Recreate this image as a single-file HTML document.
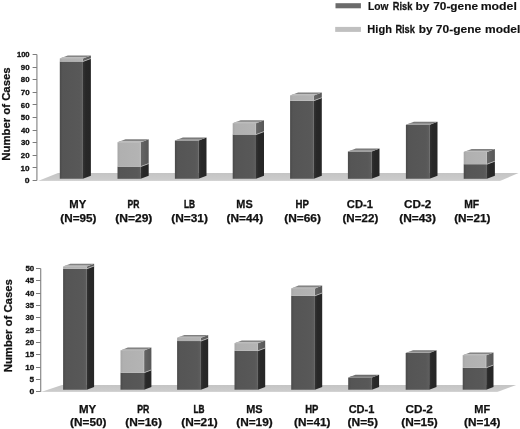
<!DOCTYPE html>
<html><head><meta charset="utf-8"><style>
html,body{margin:0;padding:0;background:#fff;}
svg{display:block;will-change:transform;}
text{font-family:"Liberation Sans", sans-serif;font-weight:bold;fill:#111;}
</style></head><body>
<svg width="520" height="429" viewBox="0 0 520 429">
<rect width="520" height="429" fill="#fff"/>
<defs>
<linearGradient id="lf" x1="0" x2="1" y1="0" y2="0"><stop offset="0" stop-color="#4a4a4a"/><stop offset="0.12" stop-color="#555"/><stop offset="0.85" stop-color="#585858"/><stop offset="1" stop-color="#5e5e5e"/></linearGradient>
<linearGradient id="ls" x1="0" x2="1" y1="0" y2="0"><stop offset="0" stop-color="#333"/><stop offset="0.35" stop-color="#282828"/><stop offset="1" stop-color="#262626"/></linearGradient>
<linearGradient id="hf" x1="0" x2="1" y1="0" y2="0"><stop offset="0" stop-color="#a6a6a6"/><stop offset="0.12" stop-color="#b0b0b0"/><stop offset="1" stop-color="#b4b4b4"/></linearGradient>
<linearGradient id="hs" x1="0" x2="1" y1="0" y2="0"><stop offset="0" stop-color="#666"/><stop offset="1" stop-color="#575757"/></linearGradient>
<linearGradient id="lt" x1="0" x2="0" y1="0" y2="1"><stop offset="0" stop-color="#747474"/><stop offset="1" stop-color="#8a8a8a"/></linearGradient>
<linearGradient id="ht" x1="0" x2="0" y1="0" y2="1"><stop offset="0" stop-color="#7c7c7c"/><stop offset="1" stop-color="#929292"/></linearGradient>
<linearGradient id="fl" x1="0" x2="0" y1="0" y2="1"><stop offset="0" stop-color="#c4c4c4"/><stop offset="0.8" stop-color="#cbcbcb"/><stop offset="1" stop-color="#d6d6d6"/></linearGradient>
</defs>
<polygon points="38.00,181.00 58.00,173.00 518.50,173.00 500.00,181.00" fill="url(#fl)"/>
<line x1="36.9" y1="54.5" x2="36.9" y2="180.5" stroke="#8a8a8a" stroke-width="1.2"/>
<line x1="32.6" y1="54.50" x2="36.9" y2="54.50" stroke="#7c7c7c" stroke-width="1"/>
<text x="16.92" y="57.20" font-size="8.00" textLength="12.69" lengthAdjust="spacingAndGlyphs" stroke="#111" stroke-width="0.34">100</text>
<line x1="32.6" y1="67.50" x2="36.9" y2="67.50" stroke="#7c7c7c" stroke-width="1"/>
<text x="20.83" y="69.80" font-size="8.00" textLength="8.80" lengthAdjust="spacingAndGlyphs" stroke="#111" stroke-width="0.31">90</text>
<line x1="32.6" y1="79.50" x2="36.9" y2="79.50" stroke="#7c7c7c" stroke-width="1"/>
<text x="20.85" y="82.40" font-size="8.00" textLength="8.77" lengthAdjust="spacingAndGlyphs" stroke="#111" stroke-width="0.31">80</text>
<line x1="32.6" y1="92.50" x2="36.9" y2="92.50" stroke="#7c7c7c" stroke-width="1"/>
<text x="20.76" y="95.00" font-size="8.00" textLength="8.87" lengthAdjust="spacingAndGlyphs" stroke="#111" stroke-width="0.30">70</text>
<line x1="32.6" y1="104.50" x2="36.9" y2="104.50" stroke="#7c7c7c" stroke-width="1"/>
<text x="20.81" y="107.60" font-size="8.00" textLength="8.82" lengthAdjust="spacingAndGlyphs" stroke="#111" stroke-width="0.31">60</text>
<line x1="32.6" y1="117.50" x2="36.9" y2="117.50" stroke="#7c7c7c" stroke-width="1"/>
<text x="20.86" y="120.20" font-size="8.00" textLength="8.77" lengthAdjust="spacingAndGlyphs" stroke="#111" stroke-width="0.31">50</text>
<line x1="32.6" y1="130.50" x2="36.9" y2="130.50" stroke="#7c7c7c" stroke-width="1"/>
<text x="20.98" y="132.80" font-size="8.00" textLength="8.64" lengthAdjust="spacingAndGlyphs" stroke="#111" stroke-width="0.32">40</text>
<line x1="32.6" y1="142.50" x2="36.9" y2="142.50" stroke="#7c7c7c" stroke-width="1"/>
<text x="20.92" y="145.40" font-size="8.00" textLength="8.70" lengthAdjust="spacingAndGlyphs" stroke="#111" stroke-width="0.32">30</text>
<line x1="32.6" y1="155.50" x2="36.9" y2="155.50" stroke="#7c7c7c" stroke-width="1"/>
<text x="20.83" y="158.00" font-size="8.00" textLength="8.80" lengthAdjust="spacingAndGlyphs" stroke="#111" stroke-width="0.31">20</text>
<line x1="32.6" y1="167.50" x2="36.9" y2="167.50" stroke="#7c7c7c" stroke-width="1"/>
<text x="20.59" y="170.60" font-size="8.00" textLength="9.05" lengthAdjust="spacingAndGlyphs" stroke="#111" stroke-width="0.30">10</text>
<line x1="32.6" y1="180.50" x2="36.9" y2="180.50" stroke="#7c7c7c" stroke-width="1"/>
<text x="24.86" y="183.20" font-size="8.00" textLength="4.79" lengthAdjust="spacingAndGlyphs" stroke="#111" stroke-width="0.30">0</text>
<polygon points="59.80,61.50 82.90,61.50 82.90,178.80 59.80,178.80" fill="url(#lf)"/>
<polygon points="82.90,61.50 90.90,58.50 90.90,175.80 82.90,178.80" fill="url(#ls)"/>
<polygon points="59.80,58.40 82.90,58.40 82.90,61.50 59.80,61.50" fill="url(#hf)"/>
<polygon points="82.90,58.40 90.90,55.40 90.90,58.50 82.90,61.50" fill="url(#hs)"/>
<line x1="82.90" y1="61.50" x2="90.90" y2="58.50" stroke="#bdbdbd" stroke-width="0.8"/>
<line x1="82.50" y1="58.40" x2="82.50" y2="61.50" stroke="#c2c2c2" stroke-width="0.8"/>
<polygon points="59.80,58.40 67.80,55.40 90.90,55.40 82.90,58.40" fill="url(#ht)"/>
<polygon points="59.80,58.40 63.40,57.05 86.50,57.05 82.90,58.40" fill="#bdbdbd"/>
<polygon points="117.50,166.60 140.70,166.60 140.70,178.80 117.50,178.80" fill="url(#lf)"/>
<polygon points="140.70,166.60 148.70,163.60 148.70,175.80 140.70,178.80" fill="url(#ls)"/>
<polygon points="117.50,142.30 140.70,142.30 140.70,166.60 117.50,166.60" fill="url(#hf)"/>
<polygon points="140.70,142.30 148.70,139.30 148.70,163.60 140.70,166.60" fill="url(#hs)"/>
<line x1="140.70" y1="166.60" x2="148.70" y2="163.60" stroke="#bdbdbd" stroke-width="0.8"/>
<line x1="140.30" y1="142.30" x2="140.30" y2="166.60" stroke="#c2c2c2" stroke-width="0.8"/>
<polygon points="117.50,142.30 125.50,139.30 148.70,139.30 140.70,142.30" fill="url(#ht)"/>
<polygon points="117.50,142.30 121.10,140.95 144.30,140.95 140.70,142.30" fill="#bdbdbd"/>
<polygon points="174.90,140.60 198.50,140.60 198.50,178.80 174.90,178.80" fill="url(#lf)"/>
<polygon points="198.50,140.60 206.50,137.60 206.50,175.80 198.50,178.80" fill="url(#ls)"/>
<polygon points="174.90,140.60 182.90,137.60 206.50,137.60 198.50,140.60" fill="url(#lt)"/>
<polygon points="174.90,140.60 178.50,139.25 202.10,139.25 198.50,140.60" fill="#a6a6a6"/>
<polygon points="232.70,134.60 256.00,134.60 256.00,178.80 232.70,178.80" fill="url(#lf)"/>
<polygon points="256.00,134.60 264.00,131.60 264.00,175.80 256.00,178.80" fill="url(#ls)"/>
<polygon points="232.70,123.20 256.00,123.20 256.00,134.60 232.70,134.60" fill="url(#hf)"/>
<polygon points="256.00,123.20 264.00,120.20 264.00,131.60 256.00,134.60" fill="url(#hs)"/>
<line x1="256.00" y1="134.60" x2="264.00" y2="131.60" stroke="#bdbdbd" stroke-width="0.8"/>
<line x1="255.60" y1="123.20" x2="255.60" y2="134.60" stroke="#c2c2c2" stroke-width="0.8"/>
<polygon points="232.70,123.20 240.70,120.20 264.00,120.20 256.00,123.20" fill="url(#ht)"/>
<polygon points="232.70,123.20 236.30,121.85 259.60,121.85 256.00,123.20" fill="#bdbdbd"/>
<polygon points="290.10,100.70 313.80,100.70 313.80,178.80 290.10,178.80" fill="url(#lf)"/>
<polygon points="313.80,100.70 321.80,97.70 321.80,175.80 313.80,178.80" fill="url(#ls)"/>
<polygon points="290.10,95.40 313.80,95.40 313.80,100.70 290.10,100.70" fill="url(#hf)"/>
<polygon points="313.80,95.40 321.80,92.40 321.80,97.70 313.80,100.70" fill="url(#hs)"/>
<line x1="313.80" y1="100.70" x2="321.80" y2="97.70" stroke="#bdbdbd" stroke-width="0.8"/>
<line x1="313.40" y1="95.40" x2="313.40" y2="100.70" stroke="#c2c2c2" stroke-width="0.8"/>
<polygon points="290.10,95.40 298.10,92.40 321.80,92.40 313.80,95.40" fill="url(#ht)"/>
<polygon points="290.10,95.40 293.70,94.05 317.40,94.05 313.80,95.40" fill="#bdbdbd"/>
<polygon points="347.90,151.50 371.50,151.50 371.50,178.80 347.90,178.80" fill="url(#lf)"/>
<polygon points="371.50,151.50 379.50,148.50 379.50,175.80 371.50,178.80" fill="url(#ls)"/>
<polygon points="347.90,151.50 355.90,148.50 379.50,148.50 371.50,151.50" fill="url(#lt)"/>
<polygon points="347.90,151.50 351.50,150.15 375.10,150.15 371.50,151.50" fill="#a6a6a6"/>
<polygon points="405.90,124.80 429.50,124.80 429.50,178.80 405.90,178.80" fill="url(#lf)"/>
<polygon points="429.50,124.80 437.50,121.80 437.50,175.80 429.50,178.80" fill="url(#ls)"/>
<polygon points="405.90,124.80 413.90,121.80 437.50,121.80 429.50,124.80" fill="url(#lt)"/>
<polygon points="405.90,124.80 409.50,123.45 433.10,123.45 429.50,124.80" fill="#a6a6a6"/>
<polygon points="463.70,164.20 486.90,164.20 486.90,178.80 463.70,178.80" fill="url(#lf)"/>
<polygon points="486.90,164.20 494.90,161.20 494.90,175.80 486.90,178.80" fill="url(#ls)"/>
<polygon points="463.70,152.00 486.90,152.00 486.90,164.20 463.70,164.20" fill="url(#hf)"/>
<polygon points="486.90,152.00 494.90,149.00 494.90,161.20 486.90,164.20" fill="url(#hs)"/>
<line x1="486.90" y1="164.20" x2="494.90" y2="161.20" stroke="#bdbdbd" stroke-width="0.8"/>
<line x1="486.50" y1="152.00" x2="486.50" y2="164.20" stroke="#c2c2c2" stroke-width="0.8"/>
<polygon points="463.70,152.00 471.70,149.00 494.90,149.00 486.90,152.00" fill="url(#ht)"/>
<polygon points="463.70,152.00 467.30,150.65 490.50,150.65 486.90,152.00" fill="#bdbdbd"/>
<polygon points="41.00,392.00 62.00,385.00 516.20,385.00 497.30,392.00" fill="url(#fl)"/>
<line x1="40.7" y1="268.4" x2="40.7" y2="391.7" stroke="#8a8a8a" stroke-width="1.2"/>
<line x1="36.0" y1="268.50" x2="40.7" y2="268.50" stroke="#7c7c7c" stroke-width="1"/>
<text x="25.46" y="271.10" font-size="8.00" textLength="8.77" lengthAdjust="spacingAndGlyphs" stroke="#111" stroke-width="0.31">50</text>
<line x1="36.0" y1="280.50" x2="40.7" y2="280.50" stroke="#7c7c7c" stroke-width="1"/>
<text x="25.58" y="283.43" font-size="8.00" textLength="8.53" lengthAdjust="spacingAndGlyphs" stroke="#111" stroke-width="0.33">45</text>
<line x1="36.0" y1="293.50" x2="40.7" y2="293.50" stroke="#7c7c7c" stroke-width="1"/>
<text x="25.58" y="295.76" font-size="8.00" textLength="8.64" lengthAdjust="spacingAndGlyphs" stroke="#111" stroke-width="0.32">40</text>
<line x1="36.0" y1="305.50" x2="40.7" y2="305.50" stroke="#7c7c7c" stroke-width="1"/>
<text x="25.52" y="308.09" font-size="8.00" textLength="8.59" lengthAdjust="spacingAndGlyphs" stroke="#111" stroke-width="0.33">35</text>
<line x1="36.0" y1="317.50" x2="40.7" y2="317.50" stroke="#7c7c7c" stroke-width="1"/>
<text x="25.52" y="320.42" font-size="8.00" textLength="8.70" lengthAdjust="spacingAndGlyphs" stroke="#111" stroke-width="0.32">30</text>
<line x1="36.0" y1="330.50" x2="40.7" y2="330.50" stroke="#7c7c7c" stroke-width="1"/>
<text x="25.43" y="332.75" font-size="8.00" textLength="8.69" lengthAdjust="spacingAndGlyphs" stroke="#111" stroke-width="0.32">25</text>
<line x1="36.0" y1="342.50" x2="40.7" y2="342.50" stroke="#7c7c7c" stroke-width="1"/>
<text x="25.43" y="345.08" font-size="8.00" textLength="8.80" lengthAdjust="spacingAndGlyphs" stroke="#111" stroke-width="0.31">20</text>
<line x1="36.0" y1="354.50" x2="40.7" y2="354.50" stroke="#7c7c7c" stroke-width="1"/>
<text x="25.19" y="357.41" font-size="8.00" textLength="8.93" lengthAdjust="spacingAndGlyphs" stroke="#111" stroke-width="0.30">15</text>
<line x1="36.0" y1="367.50" x2="40.7" y2="367.50" stroke="#7c7c7c" stroke-width="1"/>
<text x="25.19" y="369.74" font-size="8.00" textLength="9.05" lengthAdjust="spacingAndGlyphs" stroke="#111" stroke-width="0.30">10</text>
<line x1="36.0" y1="379.50" x2="40.7" y2="379.50" stroke="#7c7c7c" stroke-width="1"/>
<text x="29.55" y="382.07" font-size="8.00" textLength="4.58" lengthAdjust="spacingAndGlyphs" stroke="#111" stroke-width="0.30">5</text>
<line x1="36.0" y1="391.50" x2="40.7" y2="391.50" stroke="#7c7c7c" stroke-width="1"/>
<text x="29.46" y="394.40" font-size="8.00" textLength="4.79" lengthAdjust="spacingAndGlyphs" stroke="#111" stroke-width="0.30">0</text>
<polygon points="63.10,268.80 86.80,268.80 86.80,389.70 63.10,389.70" fill="url(#lf)"/>
<polygon points="86.80,268.80 94.10,266.00 94.10,386.90 86.80,389.70" fill="url(#ls)"/>
<polygon points="63.10,266.60 86.80,266.60 86.80,268.80 63.10,268.80" fill="url(#hf)"/>
<polygon points="86.80,266.60 94.10,263.80 94.10,266.00 86.80,268.80" fill="url(#hs)"/>
<line x1="86.80" y1="268.80" x2="94.10" y2="266.00" stroke="#bdbdbd" stroke-width="0.8"/>
<line x1="86.40" y1="266.60" x2="86.40" y2="268.80" stroke="#c2c2c2" stroke-width="0.8"/>
<polygon points="63.10,266.60 70.40,263.80 94.10,263.80 86.80,266.60" fill="url(#ht)"/>
<polygon points="63.10,266.60 66.39,265.34 90.08,265.34 86.80,266.60" fill="#bdbdbd"/>
<polygon points="120.50,372.70 144.10,372.70 144.10,389.70 120.50,389.70" fill="url(#lf)"/>
<polygon points="144.10,372.70 151.40,369.90 151.40,386.90 144.10,389.70" fill="url(#ls)"/>
<polygon points="120.50,350.40 144.10,350.40 144.10,372.70 120.50,372.70" fill="url(#hf)"/>
<polygon points="144.10,350.40 151.40,347.60 151.40,369.90 144.10,372.70" fill="url(#hs)"/>
<line x1="144.10" y1="372.70" x2="151.40" y2="369.90" stroke="#bdbdbd" stroke-width="0.8"/>
<line x1="143.70" y1="350.40" x2="143.70" y2="372.70" stroke="#c2c2c2" stroke-width="0.8"/>
<polygon points="120.50,350.40 127.80,347.60 151.40,347.60 144.10,350.40" fill="url(#ht)"/>
<polygon points="120.50,350.40 123.78,349.14 147.38,349.14 144.10,350.40" fill="#bdbdbd"/>
<polygon points="177.10,341.10 200.90,341.10 200.90,389.70 177.10,389.70" fill="url(#lf)"/>
<polygon points="200.90,341.10 208.20,338.30 208.20,386.90 200.90,389.70" fill="url(#ls)"/>
<polygon points="177.10,337.80 200.90,337.80 200.90,341.10 177.10,341.10" fill="url(#hf)"/>
<polygon points="200.90,337.80 208.20,335.00 208.20,338.30 200.90,341.10" fill="url(#hs)"/>
<line x1="200.90" y1="341.10" x2="208.20" y2="338.30" stroke="#bdbdbd" stroke-width="0.8"/>
<line x1="200.50" y1="337.80" x2="200.50" y2="341.10" stroke="#c2c2c2" stroke-width="0.8"/>
<polygon points="177.10,337.80 184.40,335.00 208.20,335.00 200.90,337.80" fill="url(#ht)"/>
<polygon points="177.10,337.80 180.38,336.54 204.19,336.54 200.90,337.80" fill="#bdbdbd"/>
<polygon points="234.50,350.80 257.90,350.80 257.90,389.70 234.50,389.70" fill="url(#lf)"/>
<polygon points="257.90,350.80 265.20,348.00 265.20,386.90 257.90,389.70" fill="url(#ls)"/>
<polygon points="234.50,343.20 257.90,343.20 257.90,350.80 234.50,350.80" fill="url(#hf)"/>
<polygon points="257.90,343.20 265.20,340.40 265.20,348.00 257.90,350.80" fill="url(#hs)"/>
<line x1="257.90" y1="350.80" x2="265.20" y2="348.00" stroke="#bdbdbd" stroke-width="0.8"/>
<line x1="257.50" y1="343.20" x2="257.50" y2="350.80" stroke="#c2c2c2" stroke-width="0.8"/>
<polygon points="234.50,343.20 241.80,340.40 265.20,340.40 257.90,343.20" fill="url(#ht)"/>
<polygon points="234.50,343.20 237.78,341.94 261.19,341.94 257.90,343.20" fill="#bdbdbd"/>
<polygon points="291.20,295.80 314.90,295.80 314.90,389.70 291.20,389.70" fill="url(#lf)"/>
<polygon points="314.90,295.80 322.20,293.00 322.20,386.90 314.90,389.70" fill="url(#ls)"/>
<polygon points="291.20,288.40 314.90,288.40 314.90,295.80 291.20,295.80" fill="url(#hf)"/>
<polygon points="314.90,288.40 322.20,285.60 322.20,293.00 314.90,295.80" fill="url(#hs)"/>
<line x1="314.90" y1="295.80" x2="322.20" y2="293.00" stroke="#bdbdbd" stroke-width="0.8"/>
<line x1="314.50" y1="288.40" x2="314.50" y2="295.80" stroke="#c2c2c2" stroke-width="0.8"/>
<polygon points="291.20,288.40 298.50,285.60 322.20,285.60 314.90,288.40" fill="url(#ht)"/>
<polygon points="291.20,288.40 294.49,287.14 318.19,287.14 314.90,288.40" fill="#bdbdbd"/>
<polygon points="348.20,377.60 371.80,377.60 371.80,389.70 348.20,389.70" fill="url(#lf)"/>
<polygon points="371.80,377.60 379.10,374.80 379.10,386.90 371.80,389.70" fill="url(#ls)"/>
<polygon points="348.20,377.60 355.50,374.80 379.10,374.80 371.80,377.60" fill="#6c6c6c"/>
<polygon points="348.20,377.60 351.49,376.34 375.09,376.34 371.80,377.60" fill="#858585"/>
<polygon points="405.70,353.00 429.20,353.00 429.20,389.70 405.70,389.70" fill="url(#lf)"/>
<polygon points="429.20,353.00 436.50,350.20 436.50,386.90 429.20,389.70" fill="url(#ls)"/>
<polygon points="405.70,353.00 413.00,350.20 436.50,350.20 429.20,353.00" fill="url(#lt)"/>
<polygon points="405.70,353.00 408.99,351.74 432.49,351.74 429.20,353.00" fill="#a6a6a6"/>
<polygon points="462.70,367.80 486.20,367.80 486.20,389.70 462.70,389.70" fill="url(#lf)"/>
<polygon points="486.20,367.80 493.50,365.00 493.50,386.90 486.20,389.70" fill="url(#ls)"/>
<polygon points="462.70,355.20 486.20,355.20 486.20,367.80 462.70,367.80" fill="url(#hf)"/>
<polygon points="486.20,355.20 493.50,352.40 493.50,365.00 486.20,367.80" fill="url(#hs)"/>
<line x1="486.20" y1="367.80" x2="493.50" y2="365.00" stroke="#bdbdbd" stroke-width="0.8"/>
<line x1="485.80" y1="355.20" x2="485.80" y2="367.80" stroke="#c2c2c2" stroke-width="0.8"/>
<polygon points="462.70,355.20 470.00,352.40 493.50,352.40 486.20,355.20" fill="url(#ht)"/>
<polygon points="462.70,355.20 465.99,353.94 489.49,353.94 486.20,355.20" fill="#bdbdbd"/>
<text x="69.24" y="208.10" font-size="11.21" textLength="16.94" lengthAdjust="spacingAndGlyphs" stroke="#111" stroke-width="0.25">MY</text>
<text x="60.32" y="221.50" font-size="10.30" textLength="36.06" lengthAdjust="spacingAndGlyphs" stroke="#111" stroke-width="0.25">(N=95)</text>
<text x="127.53" y="208.10" font-size="11.21" textLength="11.85" lengthAdjust="spacingAndGlyphs" stroke="#111" stroke-width="0.44">PR</text>
<text x="115.20" y="221.50" font-size="10.30" textLength="37.20" lengthAdjust="spacingAndGlyphs" stroke="#111" stroke-width="0.25">(N=29)</text>
<text x="183.95" y="208.10" font-size="11.21" textLength="11.03" lengthAdjust="spacingAndGlyphs" stroke="#111" stroke-width="0.46">LB</text>
<text x="171.21" y="221.50" font-size="10.30" textLength="36.68" lengthAdjust="spacingAndGlyphs" stroke="#111" stroke-width="0.25">(N=31)</text>
<text x="236.37" y="208.10" font-size="11.21" textLength="16.36" lengthAdjust="spacingAndGlyphs" stroke="#111" stroke-width="0.27">MS</text>
<text x="226.61" y="221.50" font-size="10.30" textLength="36.48" lengthAdjust="spacingAndGlyphs" stroke="#111" stroke-width="0.25">(N=44)</text>
<text x="295.46" y="208.10" font-size="11.21" textLength="13.37" lengthAdjust="spacingAndGlyphs" stroke="#111" stroke-width="0.36">HP</text>
<text x="284.21" y="221.50" font-size="10.30" textLength="36.68" lengthAdjust="spacingAndGlyphs" stroke="#111" stroke-width="0.25">(N=66)</text>
<text x="346.84" y="208.10" font-size="11.21" textLength="26.17" lengthAdjust="spacingAndGlyphs" stroke="#111" stroke-width="0.25">CD-1</text>
<text x="342.52" y="221.50" font-size="10.30" textLength="35.75" lengthAdjust="spacingAndGlyphs" stroke="#111" stroke-width="0.25">(N=22)</text>
<text x="404.02" y="208.10" font-size="11.21" textLength="27.35" lengthAdjust="spacingAndGlyphs" stroke="#111" stroke-width="0.25">CD-2</text>
<text x="399.21" y="221.50" font-size="10.30" textLength="36.68" lengthAdjust="spacingAndGlyphs" stroke="#111" stroke-width="0.25">(N=43)</text>
<text x="464.21" y="208.10" font-size="11.21" textLength="14.97" lengthAdjust="spacingAndGlyphs" stroke="#111" stroke-width="0.31">MF</text>
<text x="454.21" y="221.50" font-size="10.30" textLength="36.27" lengthAdjust="spacingAndGlyphs" stroke="#111" stroke-width="0.25">(N=21)</text>
<text x="78.93" y="412.80" font-size="10.91" textLength="17.25" lengthAdjust="spacingAndGlyphs" stroke="#111" stroke-width="0.25">MY</text>
<text x="70.11" y="425.80" font-size="10.30" textLength="36.27" lengthAdjust="spacingAndGlyphs" stroke="#111" stroke-width="0.25">(N=50)</text>
<text x="137.32" y="412.80" font-size="10.91" textLength="12.06" lengthAdjust="spacingAndGlyphs" stroke="#111" stroke-width="0.41">PR</text>
<text x="125.21" y="425.80" font-size="10.30" textLength="36.68" lengthAdjust="spacingAndGlyphs" stroke="#111" stroke-width="0.25">(N=16)</text>
<text x="193.55" y="412.80" font-size="10.91" textLength="11.03" lengthAdjust="spacingAndGlyphs" stroke="#111" stroke-width="0.44">LB</text>
<text x="181.21" y="425.80" font-size="10.30" textLength="36.48" lengthAdjust="spacingAndGlyphs" stroke="#111" stroke-width="0.25">(N=21)</text>
<text x="246.27" y="412.80" font-size="10.91" textLength="16.36" lengthAdjust="spacingAndGlyphs" stroke="#111" stroke-width="0.25">MS</text>
<text x="236.21" y="425.80" font-size="10.30" textLength="36.48" lengthAdjust="spacingAndGlyphs" stroke="#111" stroke-width="0.25">(N=19)</text>
<text x="305.27" y="412.80" font-size="10.91" textLength="13.16" lengthAdjust="spacingAndGlyphs" stroke="#111" stroke-width="0.36">HP</text>
<text x="294.11" y="425.80" font-size="10.30" textLength="36.27" lengthAdjust="spacingAndGlyphs" stroke="#111" stroke-width="0.25">(N=41)</text>
<text x="348.65" y="412.80" font-size="10.91" textLength="25.76" lengthAdjust="spacingAndGlyphs" stroke="#111" stroke-width="0.25">CD-1</text>
<text x="347.60" y="425.80" font-size="10.30" textLength="30.29" lengthAdjust="spacingAndGlyphs" stroke="#111" stroke-width="0.25">(N=5)</text>
<text x="405.52" y="412.80" font-size="10.91" textLength="27.25" lengthAdjust="spacingAndGlyphs" stroke="#111" stroke-width="0.25">CD-2</text>
<text x="401.21" y="425.80" font-size="10.30" textLength="36.48" lengthAdjust="spacingAndGlyphs" stroke="#111" stroke-width="0.25">(N=15)</text>
<text x="474.37" y="412.80" font-size="10.91" textLength="15.84" lengthAdjust="spacingAndGlyphs" stroke="#111" stroke-width="0.25">MF</text>
<text x="464.11" y="425.80" font-size="10.30" textLength="36.27" lengthAdjust="spacingAndGlyphs" stroke="#111" stroke-width="0.25">(N=14)</text>
<text transform="translate(9.70,159.90) rotate(-90)" x="-0.76" y="0" font-size="11.36" textLength="93.22" lengthAdjust="spacingAndGlyphs" stroke="#111" stroke-width="0.25">Number of Cases</text>
<text transform="translate(12.40,371.50) rotate(-90)" x="-0.76" y="0" font-size="11.67" textLength="93.02" lengthAdjust="spacingAndGlyphs" stroke="#111" stroke-width="0.25">Number of Cases</text>
<rect x="335.5" y="3.2" width="25.4" height="5.1" fill="#6b6b6b"/>
<rect x="335.2" y="26.9" width="25.7" height="5.0" fill="#c0c0c0"/>
<text x="368.12" y="9.50" font-size="11.20" textLength="20.46" lengthAdjust="spacingAndGlyphs" stroke="#111" stroke-width="0.22">Low</text>
<text x="392.78" y="9.50" font-size="11.20" textLength="19.51" lengthAdjust="spacingAndGlyphs" stroke="#111" stroke-width="0.29">Risk</text>
<text x="415.42" y="9.50" font-size="11.20" textLength="13.85" lengthAdjust="spacingAndGlyphs" stroke="#111" stroke-width="0.15">by</text>
<text x="433.19" y="9.50" font-size="11.20" textLength="44.81" lengthAdjust="spacingAndGlyphs" stroke="#111" stroke-width="0.15">70-gene</text>
<text x="480.69" y="9.50" font-size="11.20" textLength="36.18" lengthAdjust="spacingAndGlyphs" stroke="#111" stroke-width="0.15">model</text>
<text x="367.36" y="32.80" font-size="11.00" textLength="24.52" lengthAdjust="spacingAndGlyphs" stroke="#111" stroke-width="0.15">High</text>
<text x="395.38" y="32.80" font-size="11.00" textLength="19.51" lengthAdjust="spacingAndGlyphs" stroke="#111" stroke-width="0.28">Risk</text>
<text x="418.82" y="32.80" font-size="11.00" textLength="13.85" lengthAdjust="spacingAndGlyphs" stroke="#111" stroke-width="0.15">by</text>
<text x="435.88" y="32.80" font-size="11.00" textLength="45.33" lengthAdjust="spacingAndGlyphs" stroke="#111" stroke-width="0.15">70-gene</text>
<text x="485.11" y="32.80" font-size="11.00" textLength="35.24" lengthAdjust="spacingAndGlyphs" stroke="#111" stroke-width="0.15">model</text>
</svg>
</body></html>
